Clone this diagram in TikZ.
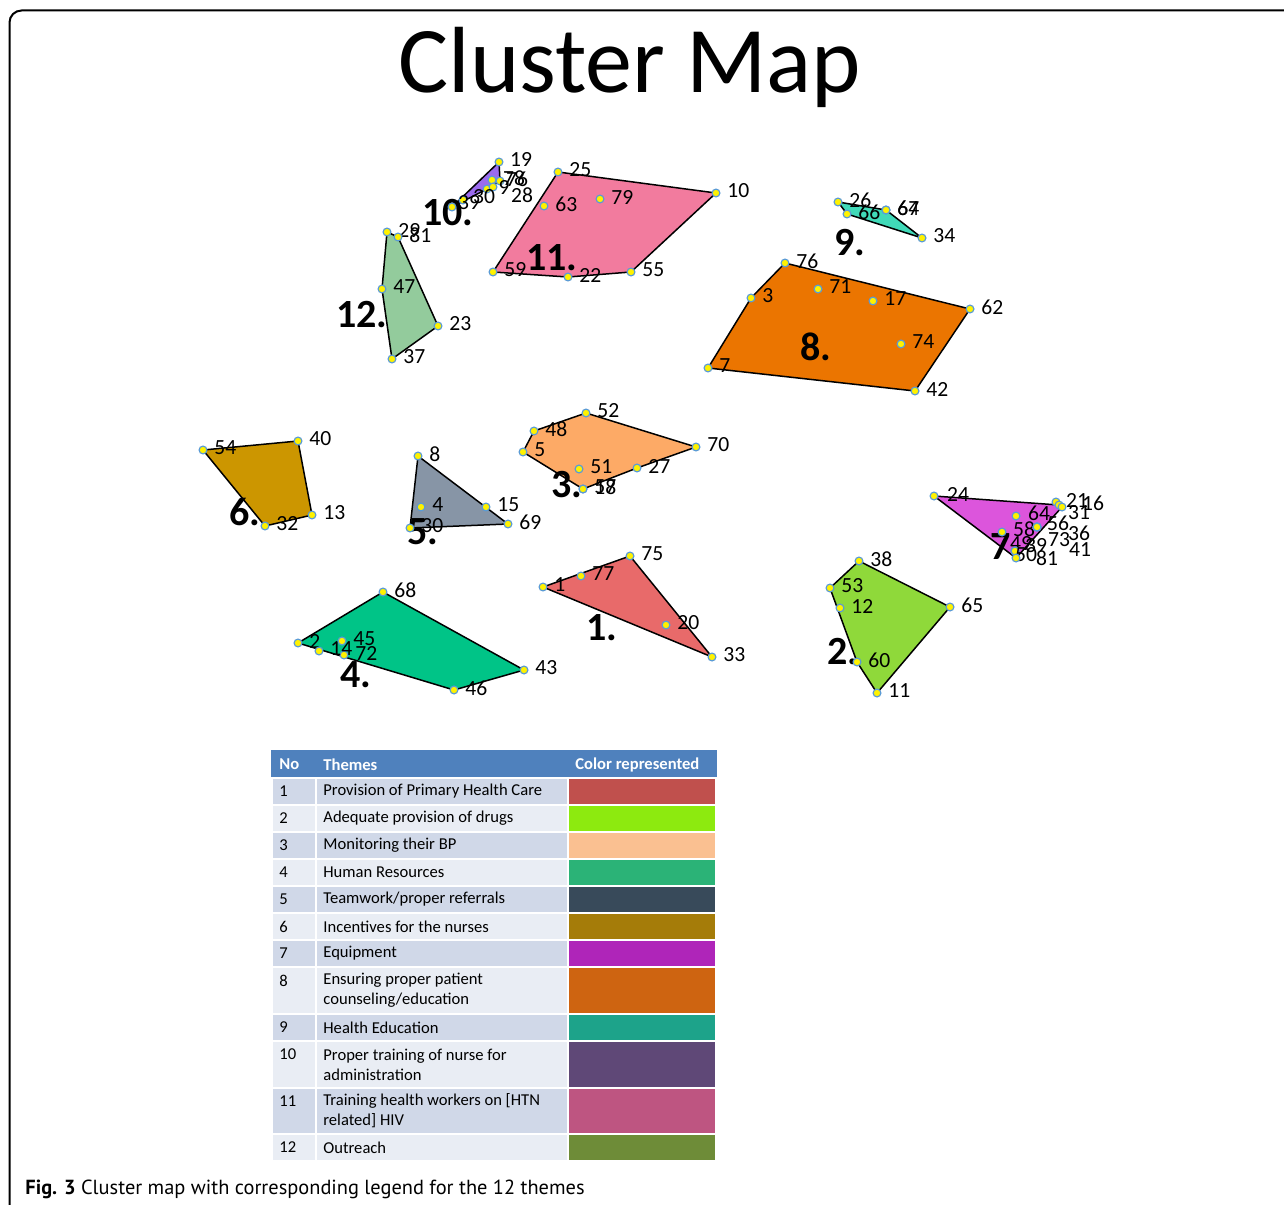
\documentclass[tikz,border=0pt]{standalone}
\usepackage{fontspec}
\setmainfont{Carlito}
\newfontfamily\capfont{PT Sans}
\usetikzlibrary{positioning}

\definecolor{dotblue}{HTML}{5B9BD5}
\definecolor{clu1}{HTML}{E86A6A}
\definecolor{clu2}{HTML}{8FD93A}
\definecolor{clu3}{HTML}{FDAA66}
\definecolor{clu4}{HTML}{00C487}
\definecolor{clu5}{HTML}{8795A6}
\definecolor{clu6}{HTML}{CC9600}
\definecolor{clu7}{HTML}{DC55DC}
\definecolor{clu8}{HTML}{EB7500}
\definecolor{clu9}{HTML}{40D9B8}
\definecolor{clu10}{HTML}{9B6BEE}
\definecolor{clu11}{HTML}{F27B9E}
\definecolor{clu12}{HTML}{93CB9C}
\definecolor{leg1}{HTML}{C0504D}
\definecolor{leg2}{HTML}{8DEA0F}
\definecolor{leg3}{HTML}{FAC091}
\definecolor{leg4}{HTML}{2BB377}
\definecolor{leg5}{HTML}{384A5A}
\definecolor{leg6}{HTML}{A57C09}
\definecolor{leg7}{HTML}{AF25B9}
\definecolor{leg8}{HTML}{CE6411}
\definecolor{leg9}{HTML}{1DA38A}
\definecolor{leg10}{HTML}{5F4877}
\definecolor{leg11}{HTML}{BE5581}
\definecolor{leg12}{HTML}{6E8C38}
\definecolor{hdblue}{HTML}{4F81BD}
\definecolor{rowdark}{HTML}{D0D8E8}
\definecolor{rowlight}{HTML}{E9EDF4}

\begin{document}
\begin{tikzpicture}[x=0.5pt,y=-0.5pt,
    kdot/.style={circle,fill=yellow,draw=dotblue,line width=0.6pt,inner sep=0pt,minimum size=3.9pt},
    lbl/.style={inner sep=0pt,anchor=west,font=\fontsize{10.8}{12}\selectfont},
    cnum/.style={inner sep=0pt,font=\fontsize{20}{22}\selectfont\bfseries},
    hull/.style={draw=black,line width=0.75pt,line join=round},
    cell/.style={draw=white,line width=0.8pt},
    txt/.style={inner sep=0pt,anchor=west,align=left,font=\fontsize{8.3}{10}\selectfont}]

  \useasboundingbox (0,0) rectangle (1284,1204);
  \draw[line width=1pt,rounded corners=6pt] (9.5,1240) -- (9.5,10.5) -- (1320,10.5);

  \node[font=\fontsize{47}{50}\selectfont] (title) at (630,67) {Cluster Map};

  % points of the clusters
  \foreach \c/\pts in {%
    1/{543/587/1,630/556/75,712/657/33,581/576/77,666/625/20},%
    2/{859/561/38,950/607/65,877/693/11,857/662/60,830/588/53,840/608/12},%
    3/{586/413/52,696/447/70,637/468/27,583/489/57,583/489/18,523/452/5,534/431/48,579/469/51},%
    4/{383/592/68,524/670/43,454/690/46,298/643/2,344/655/72,319/651/14,342/641/45},%
    5/{418/456/8,486/507/15,508/524/69,410/528/30,421/507/4},%
    6/{203/450/54,298/441/40,312/515/13,265/526/32},%
    8/{785/263/76,970/309/62,915/391/42,708/368/7,751/298/3,818/289/71,873/301/17,901/344/74},%
    9/{838/202/26,886/210/67,886/210/64,922/238/34,847/214/66},%
    11/{558/172/25,716/193/10,631/272/55,568/277/22,493/272/59,544/206/63,600/199/79},%
    12/{387/232/29,398/237/81,438/326/23,392/359/37,382/289/47}%
  } {
    \foreach \x/\y/\t in \pts
      \coordinate (k\c-\t) at (\x,\y);
  }

  % crowded clusters keep their label spots
  \foreach \x/\y/\t/\lx/\ly in {%
    499/162/19/521/159, 492/180/78/514/178, 500/181/76/517/179,%
    487/189/9/504/187, 493/187/28/522/195, 463/200/30/484/197,%
    452/207/39/469/203%
  } \coordinate (k10-\t) at (\x,\y);
  \foreach \x/\y/\t/\lx/\ly in {%
    934/496/24/958/494, 1056/502/21/1077/500, 1059/505/16/1093/503,%
    1062/507/31/1079/513, 1016/516/64/1039/513, 1037/527/56/1058/523,%
    1002/532/58/1024/529, 1037/527/36/1079/533, 1037/527/73/1059/540,%
    1015/551/49/1021/543, 1015/551/39/1036/546, 1037/527/41/1080/550,%
    1015/551/50/1026/555, 1016/558/81/1047/558%
  } \coordinate (k7-\t) at (\x,\y);

  % hulls
  \path[hull,fill=clu1] (k1-1) -- (k1-75) -- (k1-33) -- cycle;
  \path[hull,fill=clu2] (k2-38) -- (k2-65) -- (k2-11) -- (k2-60) -- (k2-53) -- cycle;
  \path[hull,fill=clu3] (k3-52) -- (k3-70) -- (k3-27) -- (k3-18) -- (k3-5) -- (k3-48) -- cycle;
  \path[hull,fill=clu4] (k4-68) -- (k4-43) -- (k4-46) -- (k4-2) -- cycle;
  \path[hull,fill=clu5] (k5-8) -- (k5-69) -- (k5-30) -- cycle;
  \path[hull,fill=clu6] (k6-54) -- (k6-40) -- (k6-13) -- (k6-32) -- cycle;
  \path[hull,fill=clu7] (k7-24) -- (k7-16) -- (k7-31) -- (k7-81) -- cycle;
  \path[hull,fill=clu8] (k8-76) -- (k8-62) -- (k8-42) -- (k8-7) -- (k8-3) -- cycle;
  \path[hull,fill=clu9] (k9-26) -- (k9-67) -- (k9-34) -- (k9-66) -- cycle;
  \path[hull,fill=clu10] (k10-19) -- (k10-76) -- (k10-9) -- (k10-39) -- cycle;
  \path[hull,fill=clu11] (k11-25) -- (k11-10) -- (k11-55) -- (k11-22) -- (k11-59) -- cycle;
  \path[hull,fill=clu12] (k12-29) -- (k12-81) -- (k12-23) -- (k12-37) -- (k12-47) -- cycle;

  % cluster numbers
  \foreach \c/\x/\y in {1/602/628,2/843/652,3/567/485,4/356/675,5/423/532,6/245/512,%
      7/1006/547,8/816/347,9/850/243,10/448/213,11/552/258,12/362/315}
    \node[cnum] (c\c) at (\x,\y) {\c.};

  % dots and their numbers
  \foreach \c/\lst in {%
    1/{1,75,33,77,20}, 2/{38,65,11,60,53,12}, 3/{52,70,27,57,18,5,48,51},%
    4/{68,43,46,2,72,14,45}, 5/{8,15,69,30,4}, 6/{54,40,13,32},%
    8/{76,62,42,7,3,71,17,74}, 9/{26,67,64,34,66},%
    11/{25,10,55,22,59,63,79}, 12/{29,81,23,37,47}%
  } {
    \foreach \t in \lst {
      \node[kdot] (d\c-\t) at (k\c-\t) {};
      \node[lbl,right=5.5pt of k\c-\t,yshift=1pt] (n\c-\t) {\t};
    }
  }
  \foreach \x/\y/\t/\lx/\ly in {%
    499/162/19/521/159, 492/180/78/514/178, 500/181/76/517/179,%
    487/189/9/504/187, 493/187/28/522/195, 463/200/30/484/197,%
    452/207/39/469/203%
  } {
    \node[kdot] (d10-\t) at (k10-\t) {};
    \node[lbl,anchor=center] (n10-\t) at (\lx,\ly) {\t};
  }
  \foreach \x/\y/\t/\lx/\ly in {%
    934/496/24/958/494, 1056/502/21/1077/500, 1059/505/16/1093/503,%
    1062/507/31/1079/513, 1016/516/64/1039/513, 1037/527/56/1058/523,%
    1002/532/58/1024/529, 1037/527/36/1079/533, 1037/527/73/1059/540,%
    1015/551/49/1021/543, 1015/551/39/1036/546, 1037/527/41/1080/550,%
    1015/551/50/1026/555, 1016/558/81/1047/558%
  } {
    \node[kdot] (d7-\t) at (k7-\t) {};
    \node[lbl,anchor=center] (n7-\t) at (\lx,\ly) {\t};
  }

  % legend table
  \fill[cell,hdblue] (272,751) rectangle (316,778);
  \fill[cell,hdblue] (316,751) rectangle (568,778);
  \fill[cell,hdblue] (568,751) rectangle (716,778);
  \node[txt,text=white,font=\fontsize{8.3}{10}\selectfont\bfseries] (hno) at (279,764.5) {No};
  \node[txt,text=white,font=\fontsize{8.3}{10}\selectfont\bfseries] (hth) at (323,764.5) {Themes};
  \node[txt,text=white,font=\fontsize{8.3}{10}\selectfont\bfseries] (hcol) at (575,764.5) {Color represented};

  \foreach \n/\ya/\yb/\txt/\col in {%
    1/778/805/{Provision of Primary Health Care}/leg1,%
    2/805/832/{Adequate provision of drugs}/leg2,%
    3/832/859/{Monitoring their BP}/leg3,%
    4/859/886/{Human Resources}/leg4,%
    5/886/913/{Teamwork/proper referrals}/leg5,%
    6/913/940/{Incentives for the nurses}/leg6,%
    7/940/967/{Equipment}/leg7,%
    8/967/1014/{Ensuring proper patient\\counseling/education}/leg8,%
    9/1014/1041/{Health Education}/leg9,%
    10/1041/1088/{Proper training of nurse for\\administration}/leg10,%
    11/1088/1134/{Training health workers on [HTN\\related] HIV}/leg11,%
    12/1134/1161/{Outreach}/leg12%
  } {
    \ifodd\n \def\bg{rowdark}\else\def\bg{rowlight}\fi
    \fill[cell,fill=\bg] (272,\ya) rectangle (316,\yb);
    \fill[cell,fill=\bg] (316,\ya) rectangle (568,\yb);
    \fill[cell,fill=\col] (568,\ya) rectangle (716,\yb);
    \node[txt] (num\n) at (279,{\ya+13.5}) {\n};
    \node[txt] (theme\n) at (323,{(\ya+\yb)/2}) {\txt};
  }

  \node[anchor=west,inner sep=0pt,font=\capfont\fontsize{10.2}{12}\selectfont] (cap) at (25,1189)
    {\textbf{Fig. 3} Cluster map with corresponding legend for the 12 themes};

\end{tikzpicture}
\end{document}
